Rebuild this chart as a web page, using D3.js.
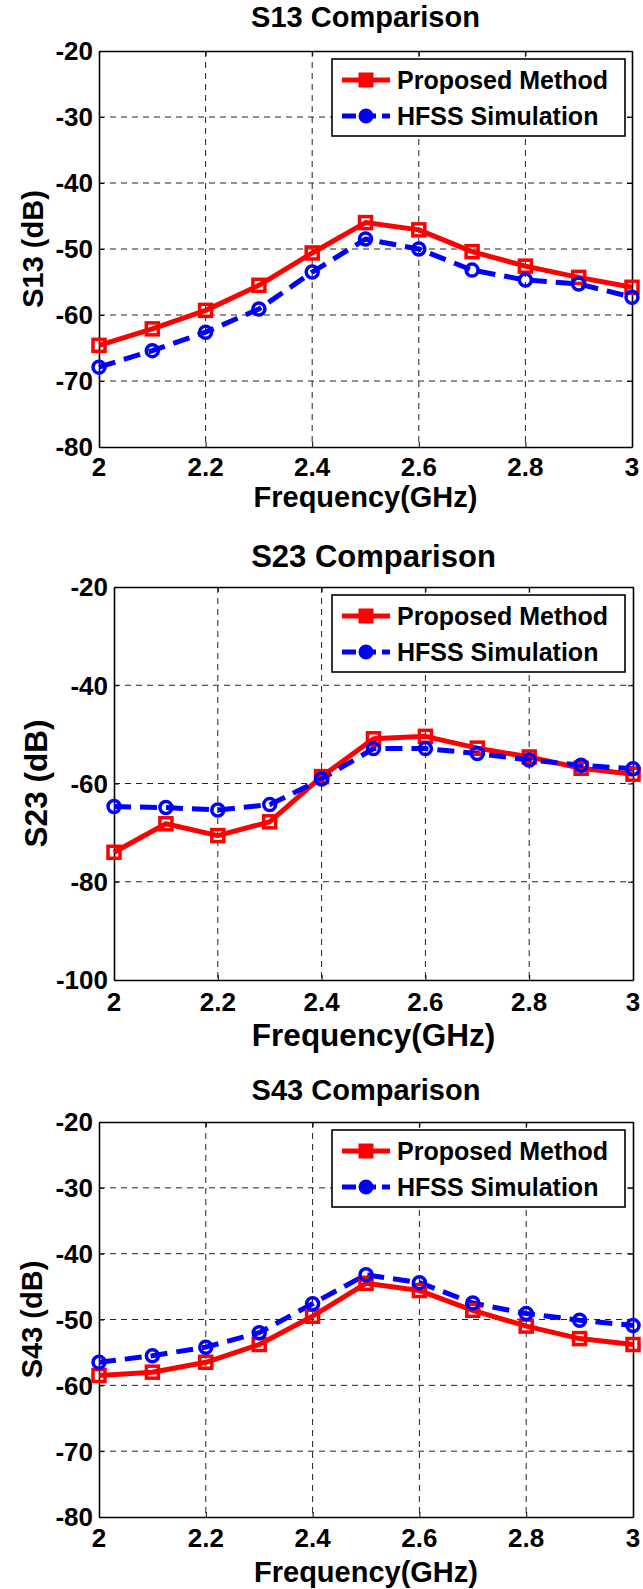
<!DOCTYPE html>
<html>
<head>
<meta charset="utf-8">
<script src="https://cdn.jsdelivr.net/npm/d3@7"></script>
<style>
  html, body { margin: 0; padding: 0; background: #fff; }
  svg text { font-family: "Liberation Sans", Arial, Helvetica, sans-serif; font-weight: bold; fill: #000; }
</style>
</head>
<body>
<div id="canvas"></div>
<script>
'use strict';

/* Frequency points shared by all three plots (GHz). */
const freq = [2.0, 2.1, 2.2, 2.3, 2.4, 2.5, 2.6, 2.7, 2.8, 2.9, 3.0];
const freqTicks = [2.0, 2.2, 2.4, 2.6, 2.8, 3.0];

const s13Proposed = [-64.6, -62.1, -59.3, -55.5, -50.6, -46.0, -47.1, -50.4, -52.6, -54.3, -55.8];
const s13Hfss = [-67.9, -65.4, -62.6, -59.1, -53.5, -48.5, -50.0, -53.2, -54.7, -55.3, -57.3];
const s13Ticks = [-80, -70, -60, -50, -40, -30, -20];

const s23Proposed = [-74.0, -68.2, -70.6, -67.8, -58.6, -50.9, -50.4, -52.8, -54.6, -56.9, -58.1];
const s23Hfss = [-64.7, -64.9, -65.4, -64.3, -59.1, -52.9, -52.9, -53.9, -55.2, -56.3, -57.0];
const s23Ticks = [-100, -80, -60, -40, -20];

const s43Proposed = [-58.5, -58.0, -56.5, -53.8, -49.5, -44.5, -45.6, -48.6, -51.0, -52.9, -53.8];
const s43Hfss = [-56.5, -55.5, -54.2, -52.0, -47.6, -43.2, -44.4, -47.5, -49.1, -50.1, -50.9];
const s43Ticks = [-80, -70, -60, -50, -40, -30, -20];

const seriesNames = ['Proposed Method', 'HFSS Simulation'];

const svg = d3.select('#canvas').append('svg')
    .attr('width', 643)
    .attr('height', 1589);

svg.append('rect')
    .attr('width', 643)
    .attr('height', 1589)
    .attr('fill', '#fff');

/**
 * Draws one comparison panel.
 * @param {Object} cfg layout of the panel plus its data arrays.
 */
function drawPanel(cfg) {
  const x = d3.scaleLinear().domain([2, 3]).range([cfg.left, cfg.right]);
  const y = d3.scaleLinear()
      .domain(d3.extent(cfg.yTicks))
      .range([cfg.bottom, cfg.top]);
  const g = svg.append('g');

  /* Dashed grid at every tick. */
  g.append('g').selectAll('line')
      .data(freqTicks.slice(1, -1))
      .join('line')
      .attr('x1', d => x(d)).attr('x2', d => x(d))
      .attr('y1', cfg.top).attr('y2', cfg.bottom)
      .attr('stroke', '#222').attr('stroke-width', 1)
      .attr('stroke-dasharray', '6,5');
  g.append('g').selectAll('line')
      .data(cfg.yTicks.slice(1, -1))
      .join('line')
      .attr('x1', cfg.left).attr('x2', cfg.right)
      .attr('y1', d => y(d)).attr('y2', d => y(d))
      .attr('stroke', '#222').attr('stroke-width', 1)
      .attr('stroke-dasharray', '6,5');

  /* Axes with inward ticks on all four sides, labels only left/bottom. */
  const fmtX = d => String(+d.toFixed(1));
  const axes = [
    [d3.axisBottom(x).tickValues(freqTicks).tickFormat(''), `translate(0,${cfg.bottom})`],
    [d3.axisTop(x).tickValues(freqTicks).tickFormat(''), `translate(0,${cfg.top})`],
    [d3.axisLeft(y).tickValues(cfg.yTicks).tickFormat(''), `translate(${cfg.left},0)`],
    [d3.axisRight(y).tickValues(cfg.yTicks).tickFormat(''), `translate(${cfg.right},0)`],
  ];
  axes.forEach(([axis, tr]) => {
    const a = g.append('g')
        .attr('transform', tr)
        .call(axis.tickSizeInner(-5).tickSizeOuter(0));
    a.select('.domain').attr('stroke', '#000').attr('stroke-width', 1.6);
    a.selectAll('.tick line').attr('stroke', '#000').attr('stroke-width', 1);
  });

  g.append('g').selectAll('text')
      .data(freqTicks)
      .join('text')
      .attr('x', d => x(d))
      .attr('y', cfg.tickY)
      .attr('text-anchor', 'middle')
      .attr('font-size', cfg.tickSize)
      .text(fmtX);
  g.append('g').selectAll('text')
      .data(cfg.yTicks)
      .join('text')
      .attr('x', cfg.left - 6)
      .attr('y', d => y(d))
      .attr('dy', '0.36em')
      .attr('text-anchor', 'end')
      .attr('font-size', cfg.tickSize)
      .text(d => d);

  /* Titles and axis labels. */
  const midX = (cfg.left + cfg.right) / 2;
  g.append('text')
      .attr('x', midX).attr('y', cfg.titleY)
      .attr('text-anchor', 'middle')
      .attr('font-size', cfg.titleSize)
      .text(cfg.title);
  g.append('text')
      .attr('x', midX).attr('y', cfg.xLabelY)
      .attr('text-anchor', 'middle')
      .attr('font-size', cfg.labelSize)
      .text('Frequency(GHz)');
  g.append('text')
      .attr('transform',
          `translate(${cfg.yLabelX},${(cfg.top + cfg.bottom) / 2}) rotate(-90)`)
      .attr('text-anchor', 'middle')
      .attr('font-size', cfg.labelSize)
      .text(cfg.yLabel);

  /* Data lines. */
  const line = d3.line().x((d, i) => x(freq[i])).y(d => y(d));
  g.append('path')
      .datum(cfg.proposed)
      .attr('d', line)
      .attr('fill', 'none')
      .attr('stroke', '#ff0000')
      .attr('stroke-width', 5)
      .attr('stroke-linejoin', 'round');
  g.append('path')
      .datum(cfg.hfss)
      .attr('d', line)
      .attr('fill', 'none')
      .attr('stroke', '#0000ff')
      .attr('stroke-width', 5)
      .attr('stroke-dasharray', '17,9');

  const sq = 12;
  g.append('g').selectAll('rect')
      .data(cfg.proposed)
      .join('rect')
      .attr('x', (d, i) => x(freq[i]) - sq / 2)
      .attr('y', d => y(d) - sq / 2)
      .attr('width', sq).attr('height', sq)
      .attr('fill', 'none')
      .attr('stroke', '#ff0000')
      .attr('stroke-width', 3.5);
  g.append('g').selectAll('circle')
      .data(cfg.hfss)
      .join('circle')
      .attr('cx', (d, i) => x(freq[i]))
      .attr('cy', d => y(d))
      .attr('r', 6)
      .attr('fill', 'none')
      .attr('stroke', '#0000ff')
      .attr('stroke-width', 3.5);

  /* Legend box in the top-right corner. */
  const lx = 332;
  const ly = cfg.top + 8;
  const lg = g.append('g').attr('transform', `translate(${lx},${ly})`);
  lg.append('rect')
      .attr('width', 293).attr('height', 77)
      .attr('fill', '#fff')
      .attr('stroke', '#000').attr('stroke-width', 1.6);
  seriesNames.forEach((name, i) => {
    const ry = i === 0 ? 21 : 57;
    const color = i === 0 ? '#ff0000' : '#0000ff';
    lg.append('line')
        .attr('x1', 10).attr('x2', 58)
        .attr('y1', ry).attr('y2', ry)
        .attr('stroke', color).attr('stroke-width', 5)
        .attr('stroke-dasharray', i === 0 ? null : '14,6');
    if (i === 0) {
      lg.append('rect')
          .attr('x', 34 - sq / 2).attr('y', ry - sq / 2)
          .attr('width', sq).attr('height', sq)
          .attr('fill', color).attr('stroke', color).attr('stroke-width', 3);
    } else {
      lg.append('circle')
          .attr('cx', 34).attr('cy', ry).attr('r', 6.5)
          .attr('fill', color).attr('stroke', color).attr('stroke-width', 2);
    }
    lg.append('text')
        .attr('x', 65).attr('y', ry)
        .attr('dy', '0.36em')
        .attr('font-size', 25)
        .text(name);
  });
}

drawPanel({
  title: 'S13 Comparison', yLabel: 'S13 (dB)',
  left: 99, right: 632, top: 51, bottom: 447,
  titleY: 27, titleSize: 29, tickY: 476, tickSize: 26,
  xLabelY: 507, labelSize: 29, yLabelX: 43,
  yTicks: s13Ticks, proposed: s13Proposed, hfss: s13Hfss,
});
drawPanel({
  title: 'S23 Comparison', yLabel: 'S23 (dB)',
  left: 114, right: 633, top: 587, bottom: 980,
  titleY: 567, titleSize: 31, tickY: 1011, tickSize: 26,
  xLabelY: 1046, labelSize: 31.5, yLabelX: 47,
  yTicks: s23Ticks, proposed: s23Proposed, hfss: s23Hfss,
});
drawPanel({
  title: 'S43 Comparison', yLabel: 'S43 (dB)',
  left: 99, right: 633, top: 1122, bottom: 1517,
  titleY: 1100, titleSize: 29, tickY: 1547, tickSize: 26,
  xLabelY: 1582, labelSize: 29, yLabelX: 42,
  yTicks: s43Ticks, proposed: s43Proposed, hfss: s43Hfss,
});
</script>
</body>
</html>
